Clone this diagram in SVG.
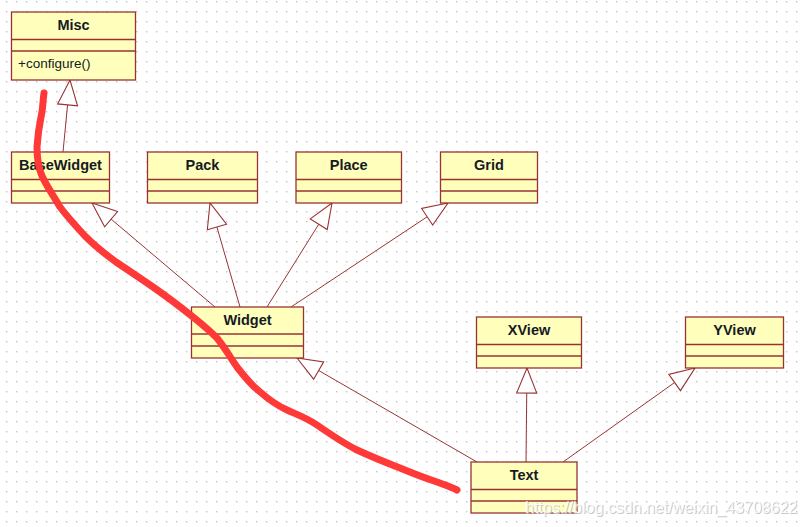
<svg xmlns="http://www.w3.org/2000/svg" width="806" height="527" viewBox="0 0 806 527">
<style>
.box{fill:#ffffbb;stroke:#993333;stroke-width:1.3}
.div{stroke:#993333;stroke-width:1.3}
.title{font-family:"Liberation Sans",Arial,sans-serif;font-weight:bold;font-size:14.5px;fill:#151a25;text-anchor:middle}
.op{font-family:"Liberation Sans",Arial,sans-serif;font-size:13.5px;fill:#151a25}
.conn{stroke:#993333;stroke-width:1;fill:none;marker-end:url(#tri)}
.wm{font-family:"Liberation Sans",Arial,sans-serif;font-size:16px}
</style>
<defs>
<pattern id="dots" x="0" y="0" width="10" height="10" patternUnits="userSpaceOnUse">
<rect x="6" y="1" width="1.4" height="1.4" fill="#c4c4c4"/>
</pattern>
<marker id="tri" viewBox="-27 -12 29 24" refX="0" refY="0" markerWidth="29" markerHeight="24" markerUnits="userSpaceOnUse" orient="auto" overflow="visible">
<path d="M0,0 L-25,-10 L-25,10 Z" fill="#ffffff" stroke="#993333" stroke-width="1.1" stroke-linejoin="miter"/>
</marker>
</defs>
<rect width="806" height="527" fill="#ffffff"/>
<rect width="806" height="527" fill="url(#dots)"/>

<g id="connectors">
<path class="conn" d="M63,152 L70,80"/>
<path class="conn" d="M215,307 L92,203"/>
<path class="conn" d="M240,307 L210,203"/>
<path class="conn" d="M267,307 L332,203"/>
<path class="conn" d="M291,307 L448,203"/>
<path class="conn" d="M477,462 L297,358"/>
<path class="conn" d="M526,462 L527,368"/>
<path class="conn" d="M563,462 L695,368"/>
</g>

<g id="Misc">
<rect class="box" x="11.5" y="12" width="124" height="68"/>
<line class="div" x1="11.5" y1="39.5" x2="135.5" y2="39.5"/>
<line class="div" x1="11.5" y1="51" x2="135.5" y2="51"/>
<text class="title" x="73.5" y="30">Misc</text>
<text class="op" x="18" y="68">+configure()</text>
</g>
<g id="BaseWidget">
<rect class="box" x="11.5" y="152" width="98" height="51"/>
<line class="div" x1="11.5" y1="179.5" x2="109.5" y2="179.5"/>
<line class="div" x1="11.5" y1="191" x2="109.5" y2="191"/>
<text class="title" x="60.5" y="170">BaseWidget</text>
</g>
<g id="Pack">
<rect class="box" x="147.5" y="152" width="110" height="51"/>
<line class="div" x1="147.5" y1="179.5" x2="257.5" y2="179.5"/>
<line class="div" x1="147.5" y1="191" x2="257.5" y2="191"/>
<text class="title" x="202.5" y="170">Pack</text>
</g>
<g id="Place">
<rect class="box" x="296" y="152" width="105.5" height="51"/>
<line class="div" x1="296" y1="179.5" x2="401.5" y2="179.5"/>
<line class="div" x1="296" y1="191" x2="401.5" y2="191"/>
<text class="title" x="348.7" y="170">Place</text>
</g>
<g id="Grid">
<rect class="box" x="440.5" y="152" width="97" height="51"/>
<line class="div" x1="440.5" y1="179.5" x2="537.5" y2="179.5"/>
<line class="div" x1="440.5" y1="191" x2="537.5" y2="191"/>
<text class="title" x="489" y="170">Grid</text>
</g>
<g id="Widget">
<rect class="box" x="191.5" y="307" width="112" height="51"/>
<line class="div" x1="191.5" y1="334" x2="303.5" y2="334"/>
<line class="div" x1="191.5" y1="346" x2="303.5" y2="346"/>
<text class="title" x="247.5" y="325">Widget</text>
</g>
<g id="XView">
<rect class="box" x="476.5" y="317" width="105" height="51"/>
<line class="div" x1="476.5" y1="344.5" x2="581.5" y2="344.5"/>
<line class="div" x1="476.5" y1="356" x2="581.5" y2="356"/>
<text class="title" x="529" y="335">XView</text>
</g>
<g id="YView">
<rect class="box" x="685.5" y="317" width="98" height="51"/>
<line class="div" x1="685.5" y1="344.5" x2="783.5" y2="344.5"/>
<line class="div" x1="685.5" y1="356" x2="783.5" y2="356"/>
<text class="title" x="734.5" y="335">YView</text>
</g>
<g id="Text">
<rect class="box" x="471" y="462" width="106" height="51"/>
<line class="div" x1="471" y1="489.5" x2="577" y2="489.5"/>
<line class="div" x1="471" y1="501" x2="577" y2="501"/>
<text class="title" x="524" y="480">Text</text>
</g>

<path d="M44,93 C43,100 43,105 42,112 C40,122 38,130 37,147 C37,158 38,167 42,176 C46,185 53,195 60,207 C66,215 73,223 85,236 C95,246 105,254 116,262 C128,270 140,278 153,287 C166,296 178,305 193,317 C203,325 210,331 217,338 C225,348 230,357 237,367 C244,376 250,384 259,391 C268,399 276,405 287,410 C298,415 307,418 317,425 C330,434 343,443 357,450 C370,456 382,461 400,468 C412,473 422,477 437,482 C445,485 451,487 457,490" fill="none" stroke="#ff3838" stroke-width="7" stroke-linecap="round" stroke-linejoin="round"/>

<text class="wm" x="526" y="514" fill="#c8c8c8">https://blog.csdn.net/weixin_43708622</text>
<text class="wm" x="525" y="513" fill="#ffffff" fill-opacity="0.85">https://blog.csdn.net/weixin_43708622</text>
</svg>
